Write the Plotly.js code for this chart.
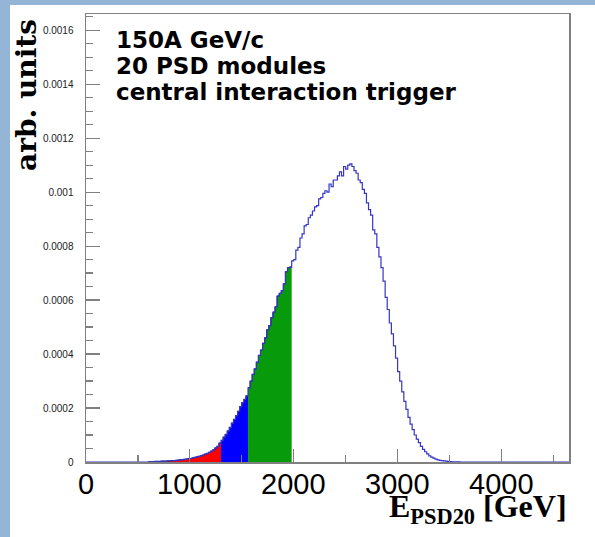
<!DOCTYPE html>
<html>
<head>
<meta charset="utf-8">
<script src="https://cdn.plot.ly/plotly-3.0.1.min.js"></script>
<style>
  html, body { margin: 0; padding: 0; background: #ffffff; }
  #chart { width: 595px; height: 537px; }
</style>
</head>
<body>
<div id="chart"></div>
<script>
// ---- data (values in units of 1e-4 arb. units), 20 GeV bins starting at 600 GeV ----
const binStart = 600;
const binWidth = 20;
const counts = [
  0.01,0.01,0.01,0.02,0.02,0.02,0.03,0.03,0.03,0.04,
  0.04,0.05,0.05,0.06,0.07,0.08,0.09,0.10,0.11,0.12,
  0.13,0.15,0.17,0.19,0.21,0.23,0.26,0.29,0.32,0.36,
  0.40,0.45,0.52,0.58,0.70,
  0.80,0.92,1.02,1.15,1.28,1.44,1.58,1.72,1.88,2.05,2.20,2.32,2.45,
  2.75,3.00,3.25,3.45,3.70,3.95,4.15,4.40,4.60,4.90,5.05,5.35,5.55,5.75,6.15,6.25,6.35,6.60,7.05,7.20,7.22,
  7.45,7.50,7.85,7.95,8.30,8.45,8.75,8.80,9.05,9.15,
  9.30,9.45,9.50,9.75,9.80,9.95,10.05,10.00,10.30,10.20,
  10.45,10.45,10.60,10.75,10.60,10.95,10.85,11.00,11.05,10.95,
  10.80,10.70,10.45,10.35,10.10,9.95,9.60,9.35,9.15,8.60,
  8.45,7.95,7.60,7.20,6.70,6.10,5.65,5.15,4.75,4.30,
  3.85,3.35,3.00,2.60,2.25,1.95,1.65,1.40,1.20,1.00,
  0.85,0.72,0.58,0.47,0.38,0.30,0.23,0.18,0.14,0.11,
  0.08,0.06,0.05,0.04,0.03,0.02,0.015,0.01,0.01,0.005,
  0.005
];
const unitScale = 1e-4;
// centrality selection regions [from, to) in GeV and their fill colours
const regionEdges = [600, 1300, 1560, 1980];
const regionColors = ['#ff0000', '#0000ff', '#079a0b'];

const xRange = [0, 4650];
const yRange = [0, 0.00166];
const yTickVals = [0, 0.0002, 0.0004, 0.0006, 0.0008, 0.001, 0.0012, 0.0014, 0.0016];
const yTickText = ['0', '0.0002', '0.0004', '0.0006', '0.0008', '0.001', '0.0012', '0.0014', '0.0016'];
const xTickVals = [0, 1000, 2000, 3000, 4000];
const xTickText = ['0', '1000', '2000', '3000', '4000'];
const infoLines = ['150A GeV/c', '20 PSD modules', 'central interaction trigger'];

// ---- build traces ----
const edges = counts.map((_, i) => binStart + i * binWidth);
const vals = counts.map(v => v * unitScale);
const lastEdge = binStart + counts.length * binWidth;

const traces = [];
for (let r = 0; r < regionColors.length; r++) {
  const a = regionEdges[r], b = regionEdges[r + 1];
  const xs = [], ys = [];
  edges.forEach((e, i) => { if (e >= a && e < b) { xs.push(e); ys.push(vals[i]); } });
  xs.push(b); ys.push(ys[ys.length - 1]);
  traces.push({
    type: 'scatter', mode: 'lines', x: xs, y: ys,
    line: { shape: 'hv', width: 1, color: '#1a1a40' },
    fill: 'tozeroy', fillcolor: regionColors[r],
    hoverinfo: 'skip', showlegend: false
  });
}
traces.push({
  type: 'scatter', mode: 'lines',
  x: [xRange[0]].concat(edges, [lastEdge, xRange[1]]),
  y: [0].concat(vals, [0, 0]),
  line: { shape: 'hv', width: 1.2, color: '#3535c8' },
  hoverinfo: 'skip', showlegend: false
});

// ---- layout ----
const W = 595, H = 537;
const mL = 86, mR = 26, mT = 14, mB = 75;
const pw = W - mL - mR, ph = H - mT - mB;
const px2x = p => (p - mL) / pw;
const py2y = p => (H - mB - p) / ph;

const axisGray = '#808080';
const annotations = [];
infoLines.forEach((t, i) => {
  annotations.push({
    xref: 'paper', yref: 'paper', x: px2x(114), y: py2y(40 + i * 26),
    xanchor: 'left', yanchor: 'middle', showarrow: false, text: '<b>' + t + '</b>',
    font: { family: 'DejaVu Sans, sans-serif', size: 23, color: '#000' }
  });
});
// x tick labels placed through the x axis scale
xTickVals.forEach((v, i) => {
  annotations.push({
    xref: 'x', yref: 'paper', x: v, y: py2y(466),
    xanchor: 'center', yanchor: 'top', showarrow: false, text: xTickText[i],
    font: { family: 'Liberation Sans, Arial, sans-serif', size: 29, color: '#000' }
  });
});
annotations.push({
  xref: 'paper', yref: 'paper', x: px2x(27), y: py2y(95),
  xanchor: 'center', yanchor: 'middle', showarrow: false, textangle: -90,
  text: '<b>arb. units</b>',
  font: { family: 'DejaVu Serif, serif', size: 28, color: '#000' }
});
annotations.push({
  xref: 'paper', yref: 'paper', x: px2x(569), y: py2y(508),
  xanchor: 'right', yanchor: 'middle', showarrow: false,
  text: '<b>E<sub>PSD20</sub> [GeV]</b>',
  font: { family: 'Liberation Serif, Times New Roman, serif', size: 32, color: '#000' }
});
// partially visible slide title above the figure
annotations.push({
  xref: 'paper', yref: 'paper', x: px2x(512), y: py2y(2),
  xanchor: 'right', yanchor: 'bottom', showarrow: false,
  text: 'Energy',
  font: { family: 'Liberation Sans, Arial, sans-serif', size: 34, color: '#ffffff' }
});

const slideBlue = '#94b5d5';
const shapes = [
  { type: 'rect', xref: 'paper', yref: 'paper', layer: 'below',
    x0: px2x(0), x1: px2x(10), y0: py2y(H), y1: py2y(0),
    fillcolor: slideBlue, line: { width: 0 } },
  { type: 'rect', xref: 'paper', yref: 'paper', layer: 'below',
    x0: px2x(0), x1: px2x(W), y0: py2y(5), y1: py2y(0),
    fillcolor: slideBlue, line: { width: 0 } }
];

const layout = {
  width: W, height: H,
  margin: { l: mL, r: mR, t: mT, b: mB, pad: 0 },
  paper_bgcolor: '#ffffff', plot_bgcolor: '#ffffff',
  showlegend: false,
  xaxis: {
    range: xRange, showgrid: false, zeroline: false,
    showline: true, mirror: true, linecolor: axisGray, linewidth: 1.5,
    ticks: 'inside', ticklen: 13, tickwidth: 1.2, tickcolor: axisGray,
    tickmode: 'array', tickvals: xTickVals, ticktext: xTickText,
    showticklabels: false,
    minor: { dtick: 500, ticks: 'inside', ticklen: 7, tickwidth: 1.2, tickcolor: axisGray, showgrid: false }
  },
  yaxis: {
    range: yRange, showgrid: false, zeroline: false,
    showline: true, mirror: true, linecolor: axisGray, linewidth: 1.5,
    ticks: 'inside', ticklen: 14, tickwidth: 1.2, tickcolor: axisGray,
    tickmode: 'array', tickvals: yTickVals, ticktext: yTickText,
    tickfont: { family: 'Liberation Sans, Arial, sans-serif', size: 10, color: '#222' },
    ticklabelstandoff: 9,
    minor: { dtick: 0.00005, ticks: 'inside', ticklen: 7, tickwidth: 1.2, tickcolor: axisGray, showgrid: false }
  },
  yaxis2: {
    overlaying: 'y', matches: 'y', side: 'left', range: yRange,
    showgrid: false, zeroline: false, showline: false, showticklabels: false,
    ticks: 'outside', ticklen: 5, tickwidth: 1.2, tickcolor: axisGray,
    tickmode: 'array', tickvals: yTickVals
  },
  annotations: annotations,
  shapes: shapes
};

Plotly.newPlot('chart', traces, layout, { staticPlot: true, displayModeBar: false });
</script>
</body>
</html>
